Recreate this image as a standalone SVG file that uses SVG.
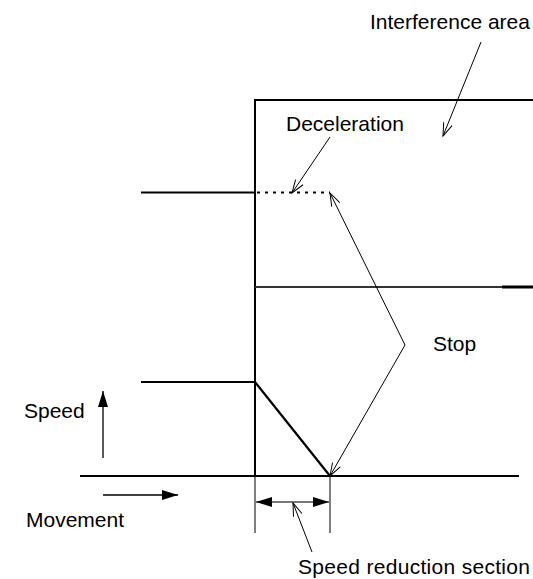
<svg xmlns="http://www.w3.org/2000/svg" width="533" height="579" viewBox="0 0 533 579">
<style>
  .lbl { font-family: "Liberation Sans", Arial, sans-serif; font-size: 21px; fill: #000; }
  .thick { stroke: #000; stroke-width: 2; fill: none; }
  .thin { stroke: #000; stroke-width: 1; fill: none; }
</style>
<defs>
  <marker id="open" markerUnits="userSpaceOnUse" viewBox="-14 -7 16 14" refX="0" refY="0" markerWidth="16" markerHeight="14" orient="auto">
    <path d="M-13,-4.5 L0,0 L-13,4.5" fill="none" stroke="#000" stroke-width="1"/>
  </marker>
  <marker id="filled" markerUnits="userSpaceOnUse" viewBox="-17 -6 18 12" refX="0" refY="0" markerWidth="18" markerHeight="12" orient="auto">
    <path d="M-16,-5 L0,0 L-16,5 Z" fill="#000"/>
  </marker>
</defs>
<rect width="533" height="579" fill="#fff"/>

<g id="frame">
  <line class="thick" x1="255" y1="99" x2="255" y2="476"/>
  <line class="thick" x1="254" y1="100" x2="533" y2="100"/>
  <line x1="255" y1="287" x2="502" y2="287" stroke="#333" stroke-width="2"/>
  <line x1="502" y1="287" x2="533" y2="287" stroke="#000" stroke-width="3"/>
  <line class="thick" x1="80" y1="476" x2="519" y2="476"/>
</g>

<g id="deceleration-profile">
  <line class="thick" x1="141" y1="192.5" x2="255" y2="192.5"/>
  <line x1="257" y1="192.5" x2="330" y2="192.5" stroke="#000" stroke-width="2" stroke-dasharray="3 5"/>
</g>

<g id="stop-profile">
  <line class="thick" x1="141" y1="382" x2="255" y2="382"/>
  <line x1="255" y1="382" x2="330" y2="476" stroke="#000" stroke-width="2.2"/>
</g>

<g id="speed-axis">
  <line x1="103" y1="458" x2="103" y2="391" stroke="#000" stroke-width="1.3" marker-end="url(#filled)"/>
  <text class="lbl" x="24" y="418">Speed</text>
</g>

<g id="movement-axis">
  <line x1="103" y1="495" x2="178" y2="495" stroke="#000" stroke-width="1.3" marker-end="url(#filled)"/>
  <text class="lbl" x="26" y="527">Movement</text>
</g>

<g id="speed-reduction-section">
  <line class="thin" x1="255" y1="476" x2="255" y2="533"/>
  <line class="thin" x1="330" y1="476" x2="330" y2="533"/>
  <line x1="290" y1="502" x2="256" y2="502" stroke="#777" stroke-width="2" marker-end="url(#filled)"/>
  <line x1="290" y1="502" x2="329" y2="502" stroke="#777" stroke-width="2" marker-end="url(#filled)"/>
  <text class="lbl" x="298" y="574" textLength="232">Speed reduction section</text>
</g>

<g id="labels">
  <text class="lbl" x="370" y="29">Interference area</text>
  <text class="lbl" x="286" y="131">Deceleration</text>
  <text class="lbl" x="433" y="351">Stop</text>
</g>

<g id="connectors">
  <line class="thin" x1="481" y1="42" x2="443" y2="136" marker-end="url(#open)"/>
  <line class="thin" x1="330" y1="137" x2="292" y2="193" marker-end="url(#open)"/>
  <line class="thin" x1="405" y1="345" x2="330" y2="193" marker-end="url(#open)"/>
  <line class="thin" x1="405" y1="345" x2="330" y2="476" marker-end="url(#open)"/>
  <line class="thin" x1="312" y1="552" x2="293" y2="503" marker-end="url(#open)"/>
</g>
</svg>
